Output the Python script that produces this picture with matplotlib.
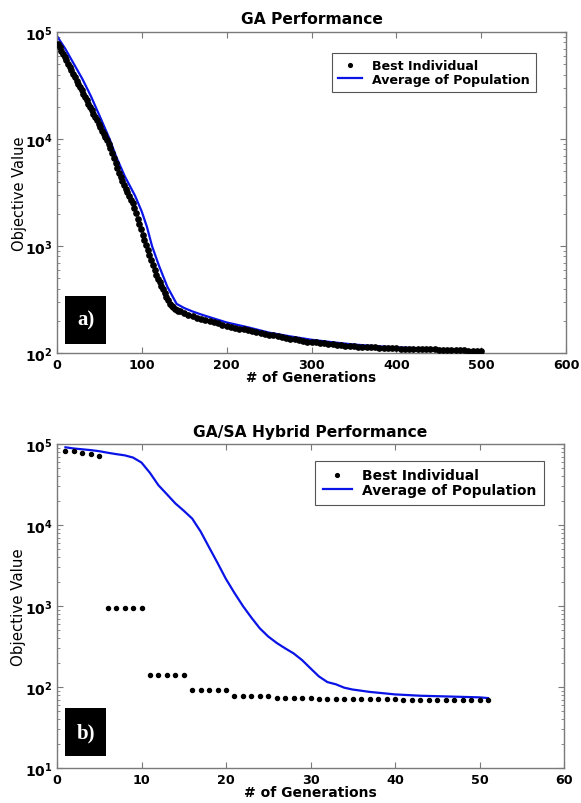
import math
import matplotlib
matplotlib.use("Agg")
import matplotlib.pyplot as plt
from matplotlib.ticker import FixedLocator, FuncFormatter, LogLocator, NullFormatter
from matplotlib.patches import Rectangle

plt.rcParams['font.family'] = ['DejaVu Sans']
plt.rcParams['mathtext.fontset'] = 'custom'
plt.rcParams['mathtext.rm'] = 'DejaVu Sans:bold'
plt.rcParams['mathtext.bf'] = 'DejaVu Sans:bold'
plt.rcParams['mathtext.it'] = 'DejaVu Sans:bold'

# ---------------- Panel a) GA Performance ----------------
ga_best_gen = [1, 3, 5, 7, 9, 11, 13, 15, 17, 19, 21, 23, 25, 27, 29, 31, 33, 35, 37, 39,
               41, 43, 45, 47, 49, 51, 53, 55, 57, 59, 61, 63, 65, 67, 69, 71, 73, 75, 77, 79,
               81, 83, 85, 87, 89, 91, 93, 95, 97, 99, 101, 103, 105, 107, 109, 111, 113, 115, 117, 119,
               121, 123, 125, 127, 129, 131, 133, 135, 137, 139, 141, 143, 145,
               150, 155, 160, 165, 170, 175, 180, 185, 190, 195, 200, 205, 210, 215, 220, 225, 230, 235,
               240, 245, 250, 255, 260, 265, 270, 275, 280, 285, 290, 295, 300, 305, 310, 315, 320, 325,
               330, 335, 340, 345, 350, 355, 360, 365, 370, 375, 380, 385, 390, 395, 400, 405, 410, 415,
               420, 425, 430, 435, 440, 445, 450, 455, 460, 465, 470, 475, 480, 485, 490, 495, 500]
ga_best_val = [77500, 72100, 67100, 62500, 58200, 54200, 50500, 47000, 43700, 40600,
               37800, 35200, 32800, 30500, 28400, 26500, 24700, 22900, 21300, 19900,
               18500, 17200, 16000, 14900, 13900, 12900, 12000, 11200, 10400, 9700,
               9040, 8260, 7410, 6670, 5980, 5370, 4820, 4390, 4050, 3730,
               3440, 3180, 2930, 2700, 2500, 2260, 2020, 1800, 1600, 1430,
               1270, 1130, 1020, 914, 822, 740, 665, 598, 538, 495,
               458, 424, 393, 363, 336, 311, 288, 277, 267, 257, 253, 249, 245,
               237, 228, 221, 213, 207, 202, 198, 193, 189, 184, 180, 176, 173, 169, 166, 163, 160, 156,
               153, 151, 148, 146, 143, 141, 138, 136, 134, 131, 130, 128, 127, 126, 125, 123, 122, 121,
               120, 119, 117, 117, 116, 115, 115, 114, 114, 113, 112, 112, 111, 111, 111, 110, 110, 109,
               109, 109, 108, 108, 108, 108, 107, 107, 107, 106, 106, 106, 106, 105, 105, 105, 105]

ga_avg_gen = [1, 10, 20, 30, 40, 50, 62, 70, 80, 92, 100, 106, 112, 120, 130, 141, 150, 160, 170,
              185, 200, 225, 250, 275, 300, 325, 350, 375, 400, 425, 450, 475, 500]
ga_avg_val = [89100, 69200, 50100, 36300, 25100, 16600, 10000, 6760, 4470, 2950, 2090, 1510, 1000,
              661, 417, 288, 263, 244, 229, 210, 193, 174, 155, 143, 133, 126, 120, 116, 113, 111,
              109, 107, 106]

# ---------------- Panel b) GA/SA Hybrid Performance ----------------
hy_gen = list(range(1, 52))
hy_best_val = [81300, 81300, 77400, 74600, 71700,
               950, 950, 950, 950, 950,
               141, 141, 141, 141, 141,
               93, 93, 93, 93, 93,
               77, 77, 77, 77, 77,
               74, 74, 74, 74, 74,
               72, 72, 72, 72, 72,
               71, 71, 71, 71, 71,
               70, 70, 70, 70, 70,
               69.5, 69.5, 69.5, 69.5, 69.5, 69]
hy_avg_val = [91000, 88000, 86000, 84000, 81500, 78000, 75000, 72500, 68000, 59000,
              44000, 31000, 24000, 18500, 15000, 12000, 8300, 5300, 3400, 2150,
              1450, 1000, 720, 530, 420, 350, 300, 260, 215, 170,
              135, 115, 108, 98, 93, 90, 87, 85, 83, 81,
              80, 79, 78, 77.5, 77, 76.5, 76, 75.5, 75, 74.5, 73]

legend_labels = ['Best Individual', 'Average of Population']

W, H = 581, 804
fig = plt.figure(figsize=(W / 100, H / 100), dpi=100)

spine_col = '#7a7a7a'
blue = '#0a14e6'


def pow_fmt(v, pos):
    e = int(round(math.log10(v)))
    return r'$10^{%d}$' % e


def style_axes(ax, xticks, xlim, ylim):
    ax.set_yscale('log')
    ax.set_xlim(*xlim)
    ax.set_ylim(*ylim)
    ax.xaxis.set_major_locator(FixedLocator(xticks))
    ax.yaxis.set_major_locator(LogLocator(base=10, numticks=10))
    ax.yaxis.set_minor_locator(LogLocator(base=10, subs=range(2, 10), numticks=50))
    ax.yaxis.set_major_formatter(FuncFormatter(pow_fmt))
    ax.yaxis.set_minor_formatter(NullFormatter())
    ax.tick_params(which='both', direction='in', top=True, right=True, color=spine_col)
    ax.tick_params(which='major', length=4, width=0.8)
    ax.tick_params(which='minor', length=2.2, width=0.6)
    ax.tick_params(axis='x', pad=3.5, labelsize=9.2)
    ax.tick_params(axis='y', pad=3.2, labelsize=10)
    for lab in ax.get_xticklabels():
        lab.set_fontweight('bold')
    for s in ax.spines.values():
        s.set_color(spine_col)
        s.set_linewidth(1.0)


def add_legend(ax, anchor, size, hlen, bpad):
    leg = ax.legend(handles=[
        plt.Line2D([], [], linestyle='none', marker='o', markersize=2.7, color='black'),
        plt.Line2D([], [], color=blue, linewidth=1.6)], labels=legend_labels,
        loc='upper right', bbox_to_anchor=anchor, fancybox=False, framealpha=1,
        edgecolor='#555555', prop={'weight': 'bold', 'size': size}, handlelength=hlen,
        borderpad=bpad, labelspacing=0.05, handletextpad=0.75, borderaxespad=0, numpoints=1)
    leg.get_frame().set_linewidth(0.8)
    return leg


def add_tag(ax, rect, text):
    x0, y0, w, h = rect
    ax.add_patch(Rectangle((x0, y0), w, h, transform=ax.transAxes,
                           facecolor='black', edgecolor='none', zorder=5))
    ax.text(x0 + w / 2, y0 + h / 2, text, transform=ax.transAxes, color='white', fontsize=15,
            fontweight='bold', family=['Liberation Serif'], ha='center', va='center', zorder=6)


# top axes
ax1 = fig.add_axes([57 / W, 1 - 354 / H, (566 - 57) / W, (354 - 33) / H])
ax1.plot(ga_best_gen, ga_best_val, linestyle='none', marker='o', markersize=3.8,
         color='black', zorder=3)
ax1.plot(ga_avg_gen, ga_avg_val, color=blue, linewidth=1.6, zorder=2)
style_axes(ax1, [0, 100, 200, 300, 400, 500, 600], (0, 600), (1e2, 1e5))
ax1.set_title('GA Performance', fontsize=11.2, fontweight='bold', pad=6.5)
ax1.set_xlabel('# of Generations', fontsize=9.8, fontweight='bold')
ax1.xaxis.set_label_coords(0.5, -0.052)
ax1.set_ylabel('Objective Value', fontsize=10.5)
ax1.yaxis.set_label_coords(-0.059, 0.5)
add_legend(ax1, (0.941, 0.935), 9.1, 1.9, 0.5)
add_tag(ax1, (0.0157, 0.028, 0.0806, 0.15), 'a)')

# bottom axes
ax2 = fig.add_axes([57 / W, 1 - 769 / H, (564 - 57) / W, (769 - 445) / H])
ax2.plot(hy_gen, hy_best_val, linestyle='none', marker='o', markersize=2.9,
         color='black', zorder=3)
ax2.plot(hy_gen, hy_avg_val, color=blue, linewidth=1.6, zorder=2)
style_axes(ax2, [0, 10, 20, 30, 40, 50, 60], (0, 60), (1e1, 1e5))
ax2.set_title('GA/SA Hybrid Performance', fontsize=11.2, fontweight='bold', pad=6)
ax2.set_xlabel('# of Generations', fontsize=10, fontweight='bold')
ax2.xaxis.set_label_coords(0.5, -0.052)
ax2.set_ylabel('Objective Value', fontsize=10.8)
ax2.yaxis.set_label_coords(-0.062, 0.5)
add_legend(ax2, (0.961, 0.948), 10.0, 2.1, 0.55)
add_tag(ax2, (0.0158, 0.037, 0.0808, 0.148), 'b)')

fig.savefig('out.png', dpi=100)
